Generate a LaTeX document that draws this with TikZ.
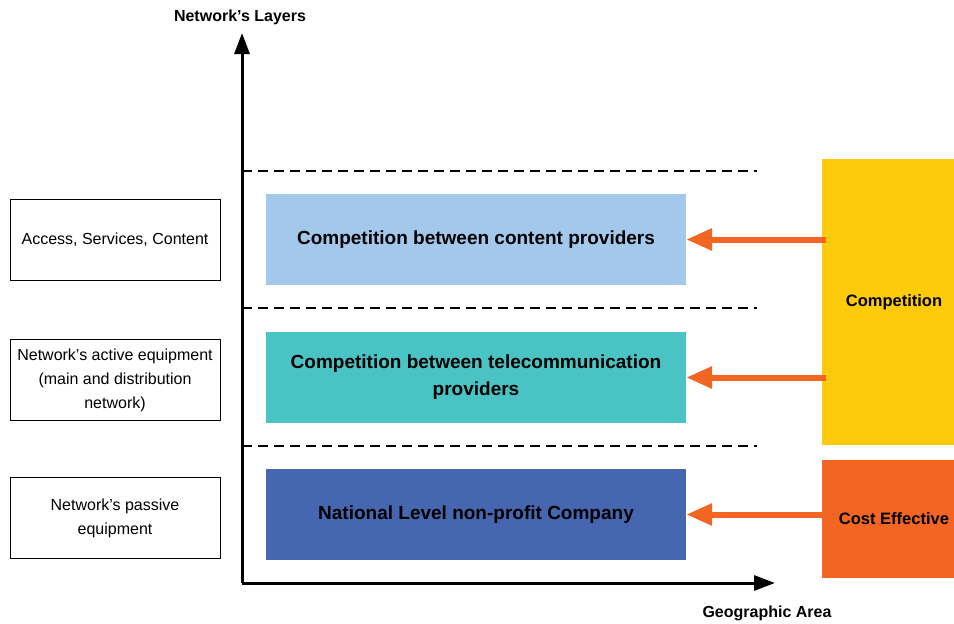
\documentclass[tikz,border=0pt]{standalone}
\usepackage{fontspec}
\setmainfont{Liberation Sans}
\usetikzlibrary{arrows.meta}
\definecolor{lblue}{HTML}{A4C8EB}
\definecolor{teal2}{HTML}{4AC3C5}
\definecolor{dblue}{HTML}{4766B0}
\definecolor{yell}{HTML}{FDCB0B}
\definecolor{orng}{HTML}{F26522}
\begin{document}
\begin{tikzpicture}[x=1pt,y=-1pt,
  leftbox/.style={draw=black,line width=0.8pt,minimum width=210pt,minimum height=81pt,align=center,font=\fontsize{16}{24}\selectfont,inner sep=0pt},
  colbox/.style={minimum width=420pt,minimum height=91pt,align=center,font=\bfseries\fontsize{19}{27}\selectfont,inner sep=0pt},
  sidebox/.style={minimum width=132pt,inner sep=0pt},
  sidetext/.style={align=center,font=\bfseries\fontsize{16.5}{20}\selectfont,inner sep=0pt},
  axis/.style={line width=3pt,-{Triangle[length=21pt,width=15pt]}},
  dline/.style={line width=2pt,dash pattern=on 10pt off 6pt},
  oarrow/.style={orng,line width=6pt,-{Triangle[length=26pt,width=21pt]}},
  axlabel/.style={font=\bfseries\fontsize{16}{19}\selectfont}]
\useasboundingbox (0,0) rectangle (954,624);
% axes
\coordinate (o) at (242,583);
\coordinate (ytop) at (242,33);
\coordinate (xend) at (775,583);
\draw[axis] (o) -- (ytop);
\draw[axis] (o) -- (xend);
\node[axlabel] (ylab) at (240,17) {Network’s Layers};
\node[axlabel] (xlab) at (767,613) {Geographic Area};
% dashed lines
\coordinate (d1a) at (242,171); \coordinate (d1b) at (757,171);
\coordinate (d2a) at (242,308); \coordinate (d2b) at (757,308);
\coordinate (d3a) at (242,446); \coordinate (d3b) at (757,446);
\draw[dline] (d1a) -- (d1b);
\draw[dline] (d2a) -- (d2b);
\draw[dline] (d3a) -- (d3b);
% left boxes
\node[leftbox] (l1) at (115,239.5) {Access, Services, Content};
\node[leftbox] (l2) at (115,380) {Network’s active equipment\\(main and distribution\\network)};
\node[leftbox] (l3) at (115,518) {Network’s passive\\equipment};
% colored boxes
\node[colbox,fill=lblue] (c1) at (476,239.5) {Competition between content providers};
\node[colbox,fill=teal2] (c2) at (476,377.5) {Competition between telecommunication\\providers};
\node[colbox,fill=dblue] (c3) at (476,514.5) {National Level non-profit Company};
% side boxes
\node[sidebox,fill=yell,minimum height=286pt] (comp) at (888,302) {};
\node[sidebox,fill=orng,minimum height=118pt] (cost) at (888,519) {};
\node[sidetext] (compt) at (894,302) {Competition};
\node[sidetext] (costt) at (894,519) {Cost Effective};
% arrows
\draw[oarrow] ([xshift=4pt]comp.west |- c1.east) -- (c1.east);
\draw[oarrow] ([xshift=4pt]comp.west |- c2.east) -- (c2.east);
\draw[oarrow] ([xshift=4pt]cost.west |- c3.east) -- (c3.east);
\end{tikzpicture}
\end{document}
